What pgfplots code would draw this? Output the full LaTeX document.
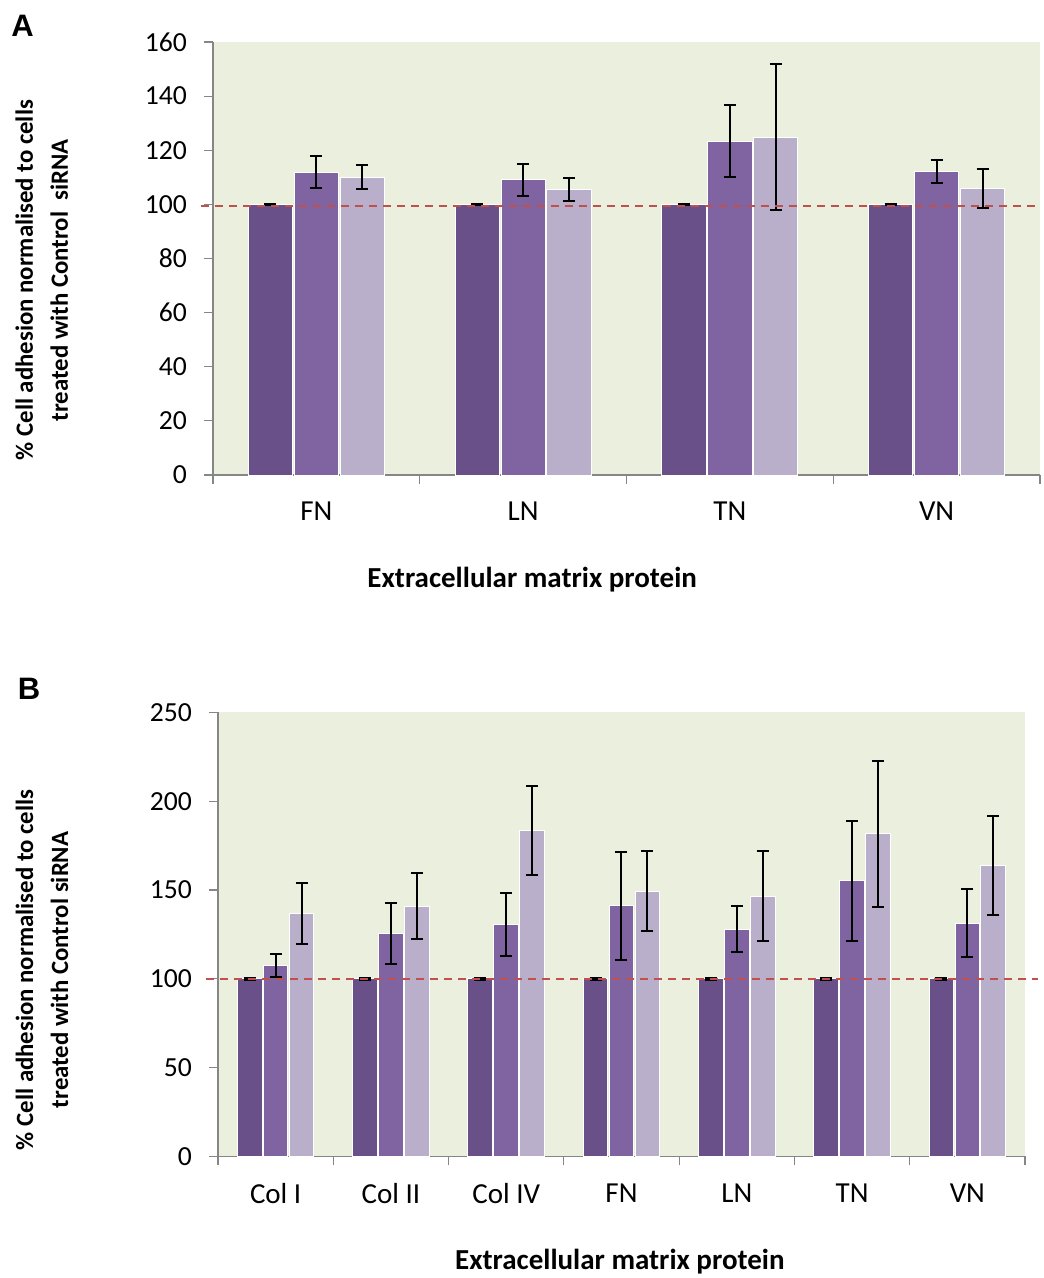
\documentclass[border=0pt]{standalone}
\usepackage{fontspec}
\setmainfont{Carlito}
\newfontfamily\arialbold[]{Liberation Sans}
\usepackage{pgfplots}
\pgfplotsset{compat=1.18}
\definecolor{cdark}{HTML}{6A5088}
\definecolor{cmid}{HTML}{8064A2}
\definecolor{clight}{HTML}{B9AFCA}
\definecolor{cbg}{HTML}{EBEFDE}
\definecolor{cred}{HTML}{C0504D}
\definecolor{caxis}{HTML}{868686}
\pgfplotsset{
  common/.style={
    scale only axis,
    axis background/.style={fill=cbg},
    axis x line*=bottom,
    axis y line*=left,
    axis line style={caxis, line width=0.6pt},
    every tick/.style={caxis, line width=0.6pt},
    tick align=outside,
    major tick length=4.5pt,
    minor tick length=4.5pt,
    ymin=0,
    xmin=-0.5,
    ybar, bar width=0.214,
    clip=false,
    y tick label style={font=\fontsize{13.8}{16}\selectfont, xshift=-5pt},
    x tick label style={font=\fontsize{14.5}{16}\selectfont, yshift=-5.5pt},
    /pgf/number format/assume math mode=true,
    ylabel style={font=\fontsize{12.4}{17.5}\selectfont\bfseries, align=center},
    xlabel style={font=\fontsize{14.5}{17}\selectfont\bfseries},
  },
  barstyle/.style={draw=white, line width=0.5pt, fill=#1,
    error bars/y dir=both, error bars/y explicit,
    error bars/error bar style={black, line width=1pt},
    error bars/error mark options={black, line width=1pt, mark size=3pt, rotate=90}},
}
\begin{document}
\begin{tikzpicture}
\path[use as bounding box] (0,0) rectangle (521.5pt,-639pt);
\node[font=\fontsize{15.5}{17}\arialbold\bfseries] at (11.25pt,-12.75pt) {A};
\node[font=\fontsize{15.5}{17}\arialbold\bfseries] at (14.5pt,-344.5pt) {B};
% Panel A
\begin{axis}[common,
  at={(106.5pt,-237.5pt)}, anchor=south west,
  width=413.5pt, height=216.5pt,
  xmax=3.5, ymax=160,
  ytick={0,20,...,160},
  xtick={0,1,2,3}, xticklabels={FN,LN,TN,VN},
  major x tick style={draw=none},
  minor xtick={-0.5,0.5,1.5,2.5,3.5},
  xlabel={Extracellular matrix protein},
  xlabel style={at={(axis description cs:0.386,-0.2425)}, anchor=center},
  ylabel={\% Cell adhesion normalised to cells\\treated with Control~ siRNA},
  ylabel style={at={(axis description cs:-0.207,0.45)}, anchor=center},
]
\addplot[barstyle=cdark, bar shift=-0.222] coordinates {
 (0,100) +- (0,0.3) (1,100) +- (0,0.3) (2,100) +- (0,0.3) (3,100) +- (0,0.3)};
\addplot[barstyle=cmid, bar shift=0] coordinates {
 (0,111.9) +- (0,5.8) (1,109.1) +- (0,6.0) (2,123.4) +- (0,13.3) (3,112.1) +- (0,4.2)};
\addplot[barstyle=clight, bar shift=0.222] coordinates {
 (0,110.1) +- (0,4.4) (1,105.6) +- (0,4.3) (2,124.8) +- (0,26.9) (3,106.0) +- (0,7.2)};
\addplot[sharp plot, cred, line width=0.8pt, dash pattern=on 4pt off 3pt, forget plot] coordinates {(-0.56,99.5) (3.5,99.5)};
\end{axis}
% Panel B
\begin{axis}[common,
  at={(109pt,-578.2pt)}, anchor=south west,
  width=403.5pt, height=222pt,
  xmax=6.5, ymax=250,
  ytick={0,50,...,250},
  xtick={0,1,2,3,4,5,6}, xticklabels={Col I,Col II,Col IV,FN,LN,TN,VN},
  major x tick style={draw=none},
  minor xtick={-0.5,0.5,...,6.5},
  xlabel={Extracellular matrix protein},
  xlabel style={at={(axis description cs:0.498,-0.237)}, anchor=center},
  ylabel={\% Cell adhesion normalised to cells\\treated with Control siRNA},
  ylabel style={at={(axis description cs:-0.218,0.42)}, anchor=center},
]
\addplot[barstyle=cdark, bar shift=-0.225] coordinates {
 (0,100) +- (0,0.4) (1,100) +- (0,0.4) (2,100) +- (0,0.4) (3,100) +- (0,0.4) (4,100) +- (0,0.4) (5,100) +- (0,0.4) (6,100) +- (0,0.4)};
\addplot[barstyle=cmid, bar shift=0] coordinates {
 (0,107.5) +- (0,6.2) (1,125.5) +- (0,17.2) (2,130.8) +- (0,17.7) (3,141.1) +- (0,30.3) (4,128.0) +- (0,12.8) (5,155.1) +- (0,33.6) (6,131.4) +- (0,19.2)};
\addplot[barstyle=clight, bar shift=0.225] coordinates {
 (0,137.0) +- (0,17.2) (1,140.8) +- (0,18.5) (2,183.3) +- (0,25.0) (3,149.4) +- (0,22.3) (4,146.6) +- (0,25.2) (5,181.6) +- (0,41.3) (6,163.9) +- (0,27.7)};
\addplot[sharp plot, cred, line width=0.8pt, dash pattern=on 4pt off 3pt, forget plot] coordinates {(-0.6,100) (6.61,100)};
\end{axis}
\end{tikzpicture}
\end{document}
